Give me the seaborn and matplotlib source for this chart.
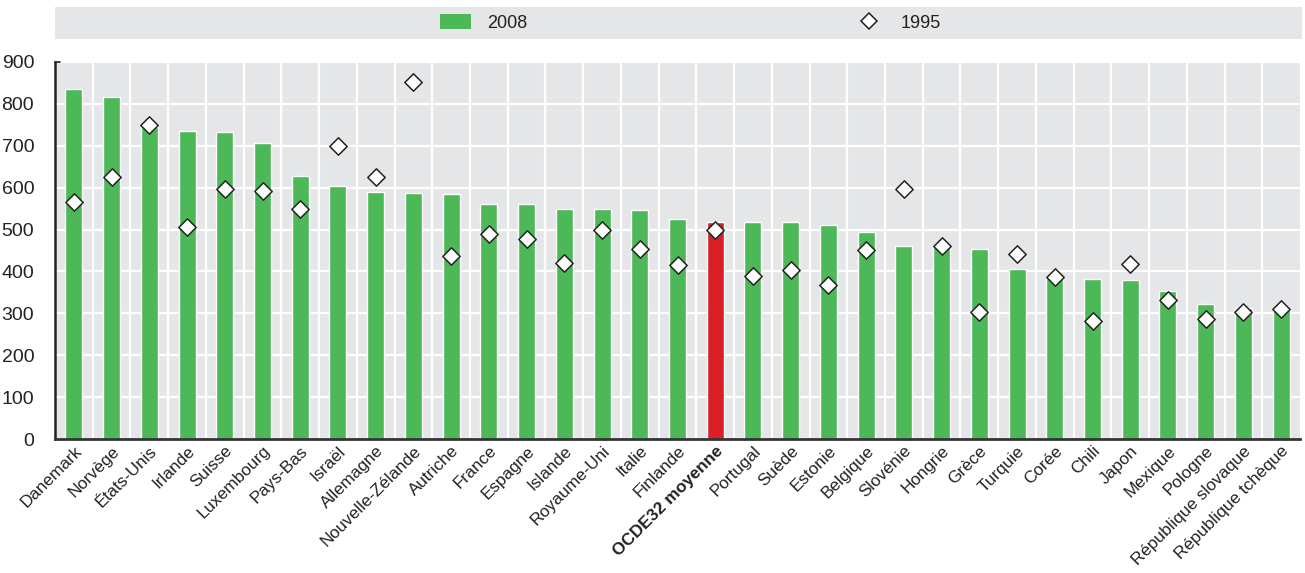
import matplotlib
matplotlib.use("Agg")
import matplotlib.pyplot as plt
import seaborn as sns
import pandas as pd
from matplotlib.patches import Patch, Rectangle
from matplotlib.lines import Line2D
from matplotlib.ticker import FixedLocator

countries = ["Danemark", "Norvège", "États-Unis", "Irlande", "Suisse", "Luxembourg",
             "Pays-Bas", "Israël", "Allemagne", "Nouvelle-Zélande", "Autriche", "France",
             "Espagne", "Islande", "Royaume-Uni", "Italie", "Finlande", "OCDE32 moyenne",
             "Portugal", "Suède", "Estonie", "Belgique", "Slovénie", "Hongrie", "Grèce",
             "Turquie", "Corée", "Chili", "Japon", "Mexique", "Pologne",
             "République slovaque", "République tchèque"]
v2008 = [835, 816, 746, 735, 733, 707, 628, 604, 590, 587, 585, 561, 561, 549, 549,
         547, 525, 518, 518, 518, 511, 494, 461, 461, 453, 406, 387, 382, 380, 353,
         322, 313, 308]
v1995 = [565, 626, 750, 505, 598, 592, 548, 700, 625, 852, 438, 490, 477, 420, 500,
         453, 415, 500, 388, 403, 368, 452, 597, 461, 302, 442, 387, 282, 418, 333,
         286, 302, 311]
highlight = "OCDE32 moyenne"
yticks = [0, 100, 200, 300, 400, 500, 600, 700, 800, 900]

GREEN = "#4DB857"
RED = "#DA1F26"
BG = "#E5E6E8"

sns.set_theme(style="white")
plt.rcParams["font.family"] = ["Liberation Sans", "DejaVu Sans"]
FS = 13
YFS = 14
XFS = 12.3

df = pd.DataFrame({"pays": countries, "y2008": v2008, "y1995": v1995})
palette = {c: (RED if c == highlight else GREEN) for c in countries}

fig = plt.figure(figsize=(13.05, 5.73), dpi=100)
W, H = 1305, 573
ax = fig.add_axes([55 / W, 1 - 439 / H, (1300 - 55) / W, (439 - 62) / H])
ax.set_facecolor(BG)

sns.barplot(data=df, x="pays", y="y2008", hue="pays", palette=palette,
            legend=False, width=0.45, ax=ax, saturation=1, zorder=2)
sns.scatterplot(data=df, x="pays", y="y1995", marker="D", s=78, color="white",
                edgecolor="#222222", linewidth=1.1, ax=ax, zorder=3, legend=False)

n = len(countries)
ax.set_xlim(-0.5, n - 0.5)
ax.set_ylim(0, 900)
ax.set_yticks(yticks)
ax.set_xlabel("")
ax.set_ylabel("")
ax.xaxis.set_minor_locator(FixedLocator([i + 0.5 for i in range(n - 1)]))
ax.grid(True, which="major", axis="y", color="white", linewidth=1.6, zorder=0)
ax.grid(True, which="minor", axis="x", color="white", linewidth=1.6, zorder=0)
ax.grid(False, which="major", axis="x")
ax.set_axisbelow(True)

ax.tick_params(axis="x", which="major", length=0, pad=3)
ax.tick_params(axis="x", which="minor", direction="in", length=5, width=1, color="#333333")
ax.tick_params(axis="y", which="major", length=0, labelsize=YFS, pad=15, colors="#222222")
ax.set_xticks(range(n))
ax.set_xticklabels(countries, rotation=45, ha="right", rotation_mode="anchor",
                   fontsize=XFS, color="#222222")
for lbl in ax.get_xticklabels():
    if lbl.get_text() == highlight:
        lbl.set_fontweight("bold")

for s in ["top", "right"]:
    ax.spines[s].set_visible(False)
ax.spines["left"].set_color("#222222")
ax.spines["left"].set_linewidth(1.8)
ax.spines["bottom"].set_color("#333333")
ax.spines["bottom"].set_linewidth(2)
ax.plot([-0.5, -0.36], [900, 900], color="#222222", lw=1.2, clip_on=False, zorder=4)

# legend band
fig.patches.append(Rectangle((55 / W, 1 - 38.5 / H), (1302 - 55) / W, 31 / H,
                             transform=fig.transFigure, facecolor=BG,
                             edgecolor="none", zorder=0))
handles = [Patch(facecolor=GREEN, edgecolor="none", label="2008"),
           Line2D([], [], marker="D", linestyle="none", markersize=8.5,
                  markerfacecolor="white", markeredgecolor="#222222",
                  markeredgewidth=1.1, label="1995")]
fig.legend(handles=handles, loc="center left", bbox_to_anchor=(440 / W, 1 - 23 / H),
           ncol=2, frameon=False, fontsize=FS, handlelength=1.7, handleheight=0.85,
           handletextpad=0.9, columnspacing=18.1, borderpad=0, borderaxespad=0,
           labelcolor="#222222")

fig.savefig("out.png", dpi=100)
